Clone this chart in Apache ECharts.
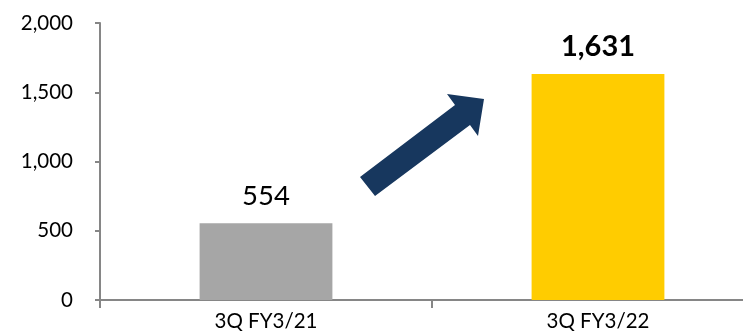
<!DOCTYPE html>
<html>
<head>
<meta charset="utf-8">
<script src="https://cdn.jsdelivr.net/npm/echarts@6/dist/echarts.min.js"></script>
<style>
html,body{margin:0;padding:0;background:#fff;overflow:hidden;width:743px;height:333px;}
#chart{width:770px;height:333px;}
</style>
</head>
<body>
<div id="chart"></div>
<script>
const categories = ["3Q FY3/21", "3Q FY3/22"];
const values = [554, 1631];
const barColors = ["#A6A6A6", "#FFCC00"];
const yTicks = [0, 500, 1000, 1500, 2000];

const chart = echarts.init(document.getElementById('chart'));
const font = "Lato, 'Open Sans', sans-serif";
chart.setOption({
  animation: false,
  grid: {left: 100, right: 6, top: 23, bottom: 33},
  xAxis: {
    type: 'category',
    data: categories,
    axisLine: {lineStyle: {color: '#868686', width: 2}},
    axisTick: {show: true, length: 8, lineStyle: {color: '#868686', width: 2}},
    axisLabel: {color: '#000', fontSize: 20.5, fontFamily: font, margin: 11}
  },
  yAxis: {
    type: 'value',
    min: yTicks[0], max: yTicks[yTicks.length - 1], interval: 500,
    splitLine: {show: false},
    axisLine: {show: true, lineStyle: {color: '#868686', width: 2}},
    axisTick: {show: true, length: 5, lineStyle: {color: '#868686', width: 2}},
    axisLabel: {
      color: '#000', fontSize: 20.5, fontFamily: font, margin: 27,
      formatter: v => v.toLocaleString('en-US')
    }
  },
  series: [{
    type: 'bar',
    barWidth: '40%',
    data: values.map((v, i) => ({
      value: v,
      itemStyle: {color: barColors[i]},
      label: {
        show: true, position: 'top', distance: 13,
        fontSize: i === 1 ? 29 : 27.5,
        fontWeight: i === 1 ? 'bold' : 'normal',
        fontFamily: font, color: '#000',
        formatter: p => p.value.toLocaleString('en-US')
      }
    }))
  }],
  graphic: [{
    type: 'polygon',
    shape: {points: [[360,177],[455,105],[447,94],[484,99],[478,136],[470,125],[375,196]]},
    style: {fill: '#17375E'}
  }]
});
</script>
</body>
</html>
